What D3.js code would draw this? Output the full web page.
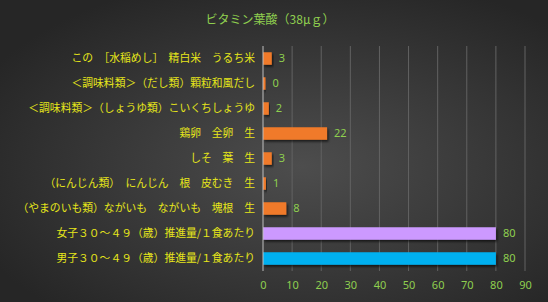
<!DOCTYPE html>
<html>
<head>
<meta charset="utf-8">
<script src="https://cdn.jsdelivr.net/npm/d3@7"></script>
<style>
  body { margin: 0; background: #333; }
  svg { display: block; }
</style>
</head>
<body>
<div id="chart"></div>
<script>
// data
var categories = [
    "この　［水稲めし］　精白米　うるち米",
    "＜調味料類＞（だし類）顆粒和風だし",
    "＜調味料類＞（しょうゆ類）こいくちしょうゆ",
    "鶏卵　全卵　生",
    "しそ　葉　生",
    "（にんじん類）　にんじん　根　皮むき　生",
    "（やまのいも類）ながいも　ながいも　塊根　生",
    "女子３０～４９（歳）推進量/１食あたり",
    "男子３０～４９（歳）推進量/１食あたり"
];
var values = [3, 0, 2, 22, 3, 1, 8, 80, 80];
var barColors = ["#f07a2a", "#f07a2a", "#f07a2a", "#f07a2a", "#f07a2a", "#f07a2a", "#f07a2a", "#cc99ff", "#00b0f0"];
var xTicks = [0, 10, 20, 30, 40, 50, 60, 70, 80, 90];
var title = "ビタミン葉酸（38μｇ）";

var svgWidth = 548;
var svgHeight = 302;

var margin = { top: 46, right: 22, bottom: 31, left: 263 };
var width = svgWidth - margin.left - margin.right;
var height = svgHeight - margin.top - margin.bottom;

var svg = d3.select("#chart")
    .append("svg")
    .attr("width", svgWidth)
    .attr("height", svgHeight);

var defs = svg.append("defs");

var bg = defs.append("radialGradient")
    .attr("id", "bg")
    .attr("cx", "55%").attr("cy", "55%").attr("r", "65%");
bg.append("stop").attr("offset", "0%").attr("stop-color", "#4d4d4d");
bg.append("stop").attr("offset", "100%").attr("stop-color", "#262626");

var shadow = defs.append("filter").attr("id", "shadow")
    .attr("x", "-10%").attr("y", "-30%").attr("width", "130%").attr("height", "180%");
shadow.append("feDropShadow")
    .attr("dx", 1.5).attr("dy", 2).attr("stdDeviation", 1.2)
    .attr("flood-color", "#000").attr("flood-opacity", 0.6);

svg.append("rect")
    .attr("width", svgWidth)
    .attr("height", svgHeight)
    .attr("fill", "url(#bg)");

svg.append("text")
    .attr("x", 270)
    .attr("y", 24)
    .attr("text-anchor", "middle")
    .attr("fill", "#8fcf4f")
    .style("font-family", "'Noto Sans CJK JP', sans-serif")
    .style("font-size", "12px")
    .text(title);

var chartGroup = svg.append("g")
    .attr("transform", `translate(${margin.left}, ${margin.top})`);

var xScale = d3.scaleLinear()
    .domain([0, 90])
    .range([0, 262]);

var yScale = d3.scaleBand()
    .domain(categories)
    .range([0, height])
    .paddingInner(0.5)
    .paddingOuter(0.25);

// gridlines
chartGroup.append("g")
    .selectAll("line")
    .data(xTicks.slice(1))
    .enter()
    .append("line")
    .attr("x1", d => xScale(d))
    .attr("x2", d => xScale(d))
    .attr("y1", 0)
    .attr("y2", height)
    .attr("stroke", "#626262")
    .attr("stroke-width", 1);

// x axis labels
var xAxis = d3.axisBottom(xScale).tickValues(xTicks).tickSize(0).tickPadding(10);
var xg = chartGroup.append("g")
    .attr("transform", `translate(0, ${height})`)
    .call(xAxis);
xg.select(".domain").remove();
xg.selectAll("text")
    .attr("fill", "#8fcf4f")
    .style("font-family", "'Noto Sans', sans-serif")
    .style("font-size", "11px");

// category labels
var yAxis = d3.axisLeft(yScale).tickSize(0).tickPadding(8);
var yg = chartGroup.append("g").call(yAxis);
yg.select(".domain").remove();
yg.selectAll("text")
    .attr("fill", "#e6e61a")
    .style("font-family", "'Noto Sans CJK JP', sans-serif")
    .style("font-size", "10.8px");

// bars
chartGroup.selectAll(".bar")
    .data(values)
    .enter()
    .append("rect")
    .attr("class", "bar")
    .attr("x", xScale(0))
    .attr("y", (d, i) => yScale(categories[i]))
    .attr("width", d => Math.max(xScale(d) - xScale(0), 2.5))
    .attr("height", yScale.bandwidth())
    .attr("fill", (d, i) => barColors[i])
    .attr("filter", "url(#shadow)");

// zero axis line
chartGroup.append("line")
    .attr("x1", xScale(0)).attr("x2", xScale(0))
    .attr("y1", 0).attr("y2", height)
    .attr("stroke", "#bfbfbf")
    .attr("stroke-width", 1);

// value labels
chartGroup.selectAll(".val")
    .data(values)
    .enter()
    .append("text")
    .attr("class", "val")
    .attr("x", d => Math.max(xScale(d), 2.5) + 7)
    .attr("y", (d, i) => yScale(categories[i]) + yScale.bandwidth() / 2)
    .attr("dy", "0.35em")
    .attr("fill", "#8fcf4f")
    .style("font-family", "'Noto Sans', sans-serif")
    .style("font-size", "11px")
    .text(d => d);
</script>
</body>
</html>
